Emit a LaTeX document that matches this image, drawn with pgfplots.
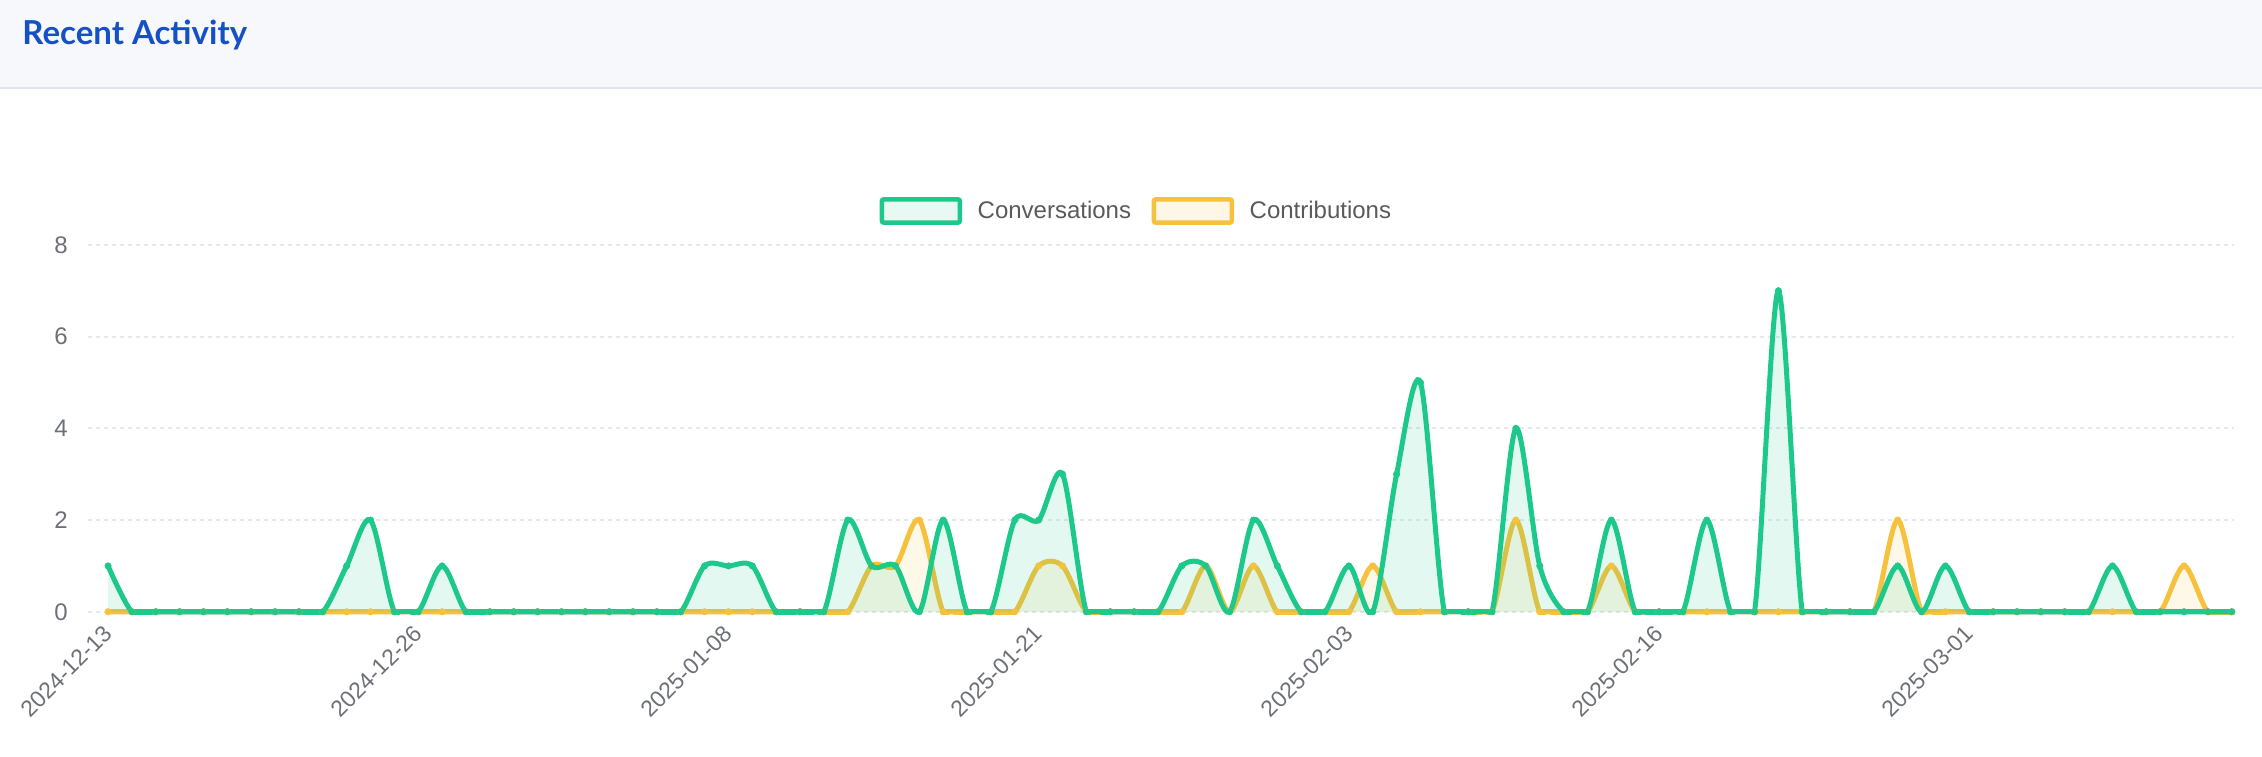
\documentclass[border=0pt]{standalone}
\usepackage{pgfplots}
\pgfplotsset{compat=1.18}
\usepackage{pgfplotstable}
\usepackage{fontspec}
\setmainfont{Liberation Sans}
\newfontfamily\titlefont{Lato}
\definecolor{grn}{HTML}{1CC88A}
\definecolor{yel}{HTML}{F6C23E}
\definecolor{grnfill}{HTML}{E8F9F3}
\definecolor{yelfill}{HTML}{FEF7E6}
\definecolor{gridc}{HTML}{E6E7F0}
\definecolor{ticktext}{HTML}{6E7079}
\definecolor{legtext}{HTML}{5A5A5A}
\definecolor{headbg}{HTML}{F7F8FC}
\definecolor{headline}{HTML}{E1E4EC}
\definecolor{titleblue}{HTML}{1550C6}

\pgfplotstableread{
x conv contrib
0 1 0
1 0 0
2 0 0
3 0 0
4 0 0
5 0 0
6 0 0
7 0 0
8 0 0
9 0 0
10 1 0
11 2 0
12 0 0
13 0 0
14 1 0
15 0 0
16 0 0
17 0 0
18 0 0
19 0 0
20 0 0
21 0 0
22 0 0
23 0 0
24 0 0
25 1 0
26 1 0
27 1 0
28 0 0
29 0 0
30 0 0
31 2 0
32 1 1
33 1 1
34 0 2
35 2 0
36 0 0
37 0 0
38 2 0
39 2 1
40 3 1
41 0 0
42 0 0
43 0 0
44 0 0
45 1 0
46 1 1
47 0 0
48 2 1
49 1 0
50 0 0
51 0 0
52 1 0
53 0 1
54 3 0
55 5 0
56 0 0
57 0 0
58 0 0
59 4 2
60 1 0
61 0 0
62 0 0
63 2 1
64 0 0
65 0 0
66 0 0
67 2 0
68 0 0
69 0 0
70 7 0
71 0 0
72 0 0
73 0 0
74 0 0
75 1 2
76 0 0
77 1 0
78 0 0
79 0 0
80 0 0
81 0 0
82 0 0
83 0 0
84 1 0
85 0 0
86 0 0
87 0 1
88 0 0
89 0 0
}\data

\begin{document}
\begin{tikzpicture}
\path[use as bounding box] (0,0) rectangle (1131pt,378pt);
\fill[headbg] (0,334pt) rectangle (1131pt,378pt);
\draw[headline, line width=0.75pt] (0,334pt) -- (1131pt,334pt);
\node[anchor=base west, inner sep=0pt, text=titleblue, font=\titlefont\bfseries\fontsize{16.5}{20}\selectfont] at (11pt,355.6pt) {Recent Activity};
\begin{axis}[
  at={(44pt,70.75pt)}, anchor=south west,
  scale only axis, width=1073pt, height=184.75pt,
  xmin=-0.84, xmax=89.1, ymin=-0.06, ymax=8,
  axis line style={draw=none},
  major tick length=0pt,
  xtick={0,13,26,39,52,65,78},
  xticklabels={2024-12-13,2024-12-26,2025-01-08,2025-01-21,2025-02-03,2025-02-16,2025-03-01},
  ytick={0,2,4,6,8},
  ymajorgrids,
  grid style={draw=gridc, line width=1pt, dash pattern=on 2pt off 2pt},
  /pgf/number format/assume math mode=true,
  yticklabel style={anchor=east, inner sep=0pt, xshift=-10pt, text=ticktext, font=\fontsize{12}{14}\selectfont},
  xticklabel style={inner sep=0pt, anchor=east, rotate=45, text=ticktext, font=\fontsize{11.5}{13}\selectfont},
  xticklabel shift=7.5pt,
  legend style={at={(0.488,1.092)}, anchor=center, draw=none, fill=none,
    font=\fontsize{12}{14}\selectfont, text=legtext,
    nodes={inner sep=0pt},
    /tikz/every odd column/.append style={column sep=7.75pt},
    /tikz/every even column/.append style={column sep=10.25pt}},
  legend columns=2,
  legend cell align=left,
]
\addlegendimage{legend image code/.code={\draw[draw=grn, fill=grnfill, line width=2.3pt, rounded corners=1pt] (0pt,-5.8pt) rectangle (39pt,5.8pt);}}
\addlegendentry{Conversations}
\addlegendimage{legend image code/.code={\draw[draw=yel, fill=yelfill, line width=2.3pt, rounded corners=1pt] (0pt,-5.8pt) rectangle (39pt,5.8pt);}}
\addlegendentry{Contributions}

% Contributions
\addplot[draw=none, fill=yel, fill opacity=0.12, smooth, tension=0.5, forget plot] table[x=x,y=contrib]{\data} \closedcycle;
\addplot[yel, line width=2.5pt, smooth, tension=0.5, forget plot] table[x=x,y=contrib]{\data};
\addplot[yel, line width=2.5pt, sharp plot, restrict y to domain=-0.01:0.01, unbounded coords=jump, forget plot] table[x=x,y=contrib]{\data};
\addplot[only marks, mark=*, mark size=1.6pt, yel, mark options={line width=0.3pt}, forget plot] table[x=x,y=contrib]{\data};

% Conversations
\addplot[draw=none, fill=grn, fill opacity=0.12, smooth, tension=0.5, forget plot] table[x=x,y=conv]{\data} \closedcycle;
\addplot[grn, line width=2.5pt, smooth, tension=0.5, forget plot] table[x=x,y=conv]{\data};
\addplot[grn, line width=2.5pt, sharp plot, restrict y to domain=-0.01:0.01, unbounded coords=jump, forget plot] table[x=x,y=conv]{\data};
\addplot[only marks, mark=*, mark size=1.6pt, grn, mark options={line width=0.3pt}, forget plot] table[x=x,y=conv]{\data};
\end{axis}
\end{tikzpicture}
\end{document}
